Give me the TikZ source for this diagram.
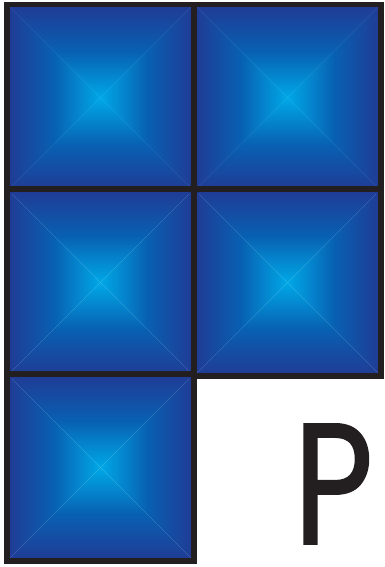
\documentclass[tikz,border=0pt]{standalone}
\usepackage{fontspec}
\newfontfamily\letterfont[FakeBold=1.2]{Poppins}
\definecolor{edgeblue}{RGB}{33,58,148}
\definecolor{midblue}{RGB}{8,96,178}
\definecolor{ctrblue}{RGB}{0,168,230}
\definecolor{ink}{RGB}{35,31,32}
\tikzset{
  x=1pt,y=1pt,
  tileborder/.style={draw=ink,line width=5.5pt,line join=miter},
  tile/.pic={
    \shade[top color=edgeblue,bottom color=ctrblue,middle color=midblue]
      (0,0)--(-93.5,93.5)--(93.5,93.5)--cycle;
    \shade[top color=ctrblue,bottom color=edgeblue,middle color=midblue]
      (0,0)--(-93.5,-93.5)--(93.5,-93.5)--cycle;
    \shade[left color=edgeblue,right color=ctrblue,middle color=midblue]
      (0,0)--(-93.5,-93.5)--(-93.5,93.5)--cycle;
    \shade[left color=ctrblue,right color=edgeblue,middle color=midblue]
      (0,0)--(93.5,-93.5)--(93.5,93.5)--cycle;
    \draw[tileborder] (-93.5,-93.5) rectangle (93.5,93.5);
  },
  letterstyle/.style={inner sep=0pt,text=ink,font=\letterfont\fontsize{172}{172}\selectfont}
}
\begin{document}
\begin{tikzpicture}
\useasboundingbox (0,0) rectangle (384,567);
\pic (t1) at (100.5,469) {tile};
\pic (t2) at (287.5,469) {tile};
\pic (t3) at (100.5,284.5) {tile};
\pic (t4) at (287.5,284.5) {tile};
\pic (t5) at (100.5,99.5) {tile};
\node[letterstyle] (letter) at (333.5,83) {\scalebox{0.8}[1]{P}};
\end{tikzpicture}
\end{document}
